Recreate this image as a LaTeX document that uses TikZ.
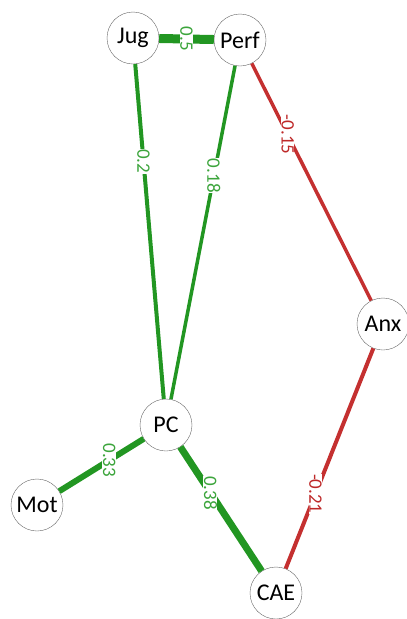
\documentclass[tikz,border=0pt]{standalone}
\usepackage{fontspec}
\setmainfont{Carlito}
\definecolor{edgegreen}{RGB}{34,150,34}
\definecolor{labgreen}{RGB}{60,165,60}
\definecolor{edgered}{RGB}{196,48,48}
\definecolor{labred}{RGB}{190,40,40}
\tikzset{
  var/.style={circle,draw=black!60,thin,fill=white,minimum size=52pt,inner sep=0pt,font=\fontsize{24}{26}\selectfont},
  posedge/.style={draw=edgegreen},
  negedge/.style={draw=edgered},
  wlabel/.style={fill=white,rotate=-90,inner sep=0.5pt,font=\fontsize{19}{21}\selectfont}
}
\begin{document}
\begin{tikzpicture}[x=1pt,y=-1pt]
\useasboundingbox (0,0) rectangle (407,619);
\node[var] (jug) at (133,38) {Jug};
\node[var] (perf) at (240,40) {Perf};
\node[var] (anx) at (383,324) {Anx};
\node[var] (pc) at (166,425) {PC};
\node[var] (mot) at (37,505) {Mot};
\node[var] (cae) at (276,593) {CAE};

\draw[posedge,line width=9pt] (jug) -- node[wlabel,text=labgreen] {0.5} (perf);
\draw[posedge,line width=4pt] (jug) -- node[wlabel,text=labgreen,pos=0.29] {0.2} (pc);
\draw[posedge,line width=3.5pt] (perf) -- node[wlabel,text=labgreen,pos=0.33] {0.18} (pc);
\draw[negedge,line width=3.5pt] (perf) -- node[wlabel,text=labred,pos=0.30] {-0.15} (anx);
\draw[negedge,line width=4pt] (anx) -- node[wlabel,text=labred,pos=0.66] {-0.21} (cae);
\draw[posedge,line width=6pt] (pc) -- node[wlabel,text=labgreen,pos=0.41] {0.33} (mot);
\draw[posedge,line width=7pt] (pc) -- node[wlabel,text=labgreen,pos=0.37] {0.38} (cae);
\end{tikzpicture}
\end{document}
